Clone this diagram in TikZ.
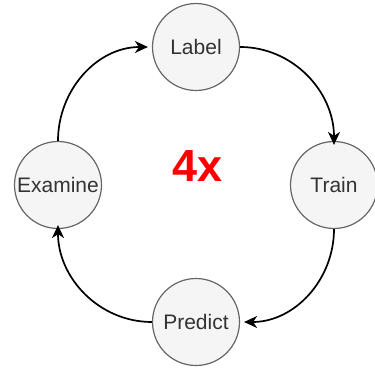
\documentclass[tikz,border=0pt]{standalone}
\usepackage{fontspec}
\setmainfont{Liberation Sans}
\usetikzlibrary{arrows.meta}
\definecolor{stepfill}{HTML}{F5F5F5}
\definecolor{stepline}{HTML}{666666}
\definecolor{steptext}{HTML}{333333}
\tikzset{
    stepnode/.style={circle,draw=stepline,fill=stepfill,line width=1.2pt,
        minimum size=87pt,inner sep=0pt,text=steptext,font=\fontsize{21}{25}\selectfont},
    loop/.style={line width=1.7pt,-{Stealth[length=13pt,width=12pt,inset=4pt]}}
}
\begin{document}
\begin{tikzpicture}[x=1pt,y=-1pt]
            \useasboundingbox (0,0) rectangle (375,369);

            \node [stepnode] (label) at (196,47) {Label};
            \node [stepnode] (train) at (334,185) {Train};
            \node [stepnode] (predict) at (196,322) {Predict};
            \node [stepnode] (examine) at (58,185) {Examine};

            \node [text=red,font=\fontsize{45}{50}\selectfont\bfseries] (times) at (198,166) {4x};

            \draw [loop] (label.east) to[out=0,in=90] ([yshift=-4pt]train.north);
            \draw [loop] (train.south) to[out=-90,in=0] ([xshift=4pt]predict.east);
            \draw [loop] (predict.west) to[out=180,in=-90] ([yshift=4pt]examine.south);
            \draw [loop] (examine.north) to[out=90,in=180] ([xshift=-4pt]label.west);
        \end{tikzpicture}
\end{document}
